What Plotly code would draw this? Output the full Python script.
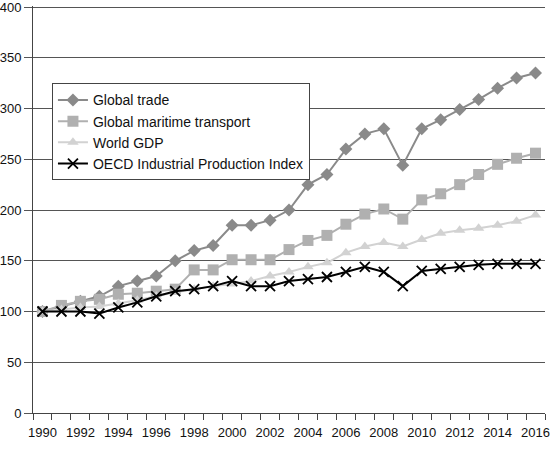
import plotly.graph_objects as go

years = list(range(1990, 2017))
global_trade = [100, 105, 110, 115, 125, 130, 135, 150, 160, 165, 185, 185, 190, 200,
                225, 235, 260, 275, 280, 244, 280, 289, 299, 309, 320, 330, 335]
maritime = [100, 106, 110, 112, 117, 118, 120, 122, 141, 141, 151, 151, 151, 161,
            170, 175, 186, 196, 201, 191, 210, 216, 225, 235, 245, 251, 256]
world_gdp = [100, 102, 104, 105, 108, 111, 115, 119, 122, 125, 127, 130, 135, 139,
             144, 148, 158, 164, 168, 164, 171, 177, 180, 182, 185, 189, 195]
oecd_ipi = [100, 100, 100, 98, 104, 109, 115, 120, 122, 125, 130, 125, 125, 130,
            132, 134, 139, 144, 139, 125, 140, 142, 144, 146, 147, 147, 147]
tick_years = years[::2]
y_ticks = [0, 50, 100, 150, 200, 250, 300, 350, 400]

fig = go.Figure()
series = [
    ("Global trade", global_trade, "#8a8a8a", "diamond", 10),
    ("Global maritime transport", maritime, "#b0b0b0", "square", 11),
    ("World GDP", world_gdp, "#d2d2d2", "triangle-up", 10),
    ("OECD Industrial Production Index", oecd_ipi, "#000000", "x-thin-open", 10),
]
for name, vals, col, sym, sz in series:
    marker = dict(symbol=sym, size=sz, color=col)
    if sym == "x-thin-open":
        marker["line"] = dict(color=col, width=1.8)
    fig.add_trace(go.Scatter(
        x=years, y=vals, name=name, mode="lines+markers",
        line=dict(color=col, width=2), marker=marker,
    ))

fig.update_layout(
    width=550, height=457,
    margin=dict(l=33, r=5, t=6, b=44),
    paper_bgcolor="white", plot_bgcolor="white",
    font=dict(family="Liberation Sans, Arial, sans-serif", size=13, color="#111111"),
    showlegend=True,
    legend=dict(
        x=0.037, y=0.81, xanchor="left", yanchor="top",
        bgcolor="white", bordercolor="#444444", borderwidth=1,
        font=dict(size=14, color="#111111"),
        tracegroupgap=0, itemwidth=30,
    ),
)
fig.update_xaxes(
    automargin=False, ticklabeloverflow="allow",
    range=[years[0] - 0.5, years[-1] + 0.5],
    tickvals=tick_years, ticktext=[str(y) for y in tick_years],
    ticks="", showgrid=False, zeroline=False, ticklabelstandoff=7,
    showline=True, linecolor="#444444", linewidth=1,
    tickfont=dict(size=13),
    minor=dict(tickvals=[y - 0.5 for y in years] + [years[-1] + 0.5],
               ticks="outside", ticklen=6, tickcolor="#444444", showgrid=False),
)
fig.update_yaxes(
    automargin=False, ticklabeloverflow="allow",
    range=[0, 401], tickvals=y_ticks,
    ticks="outside", ticklen=8, tickcolor="#555555",
    showgrid=True, gridcolor="#555555", gridwidth=1,
    zeroline=False, showline=True, linecolor="#444444", linewidth=1,
    tickfont=dict(size=13),
)

fig.write_html("out.html", config={"displayModeBar": False},
               post_script="document.body.style.margin='0';")
